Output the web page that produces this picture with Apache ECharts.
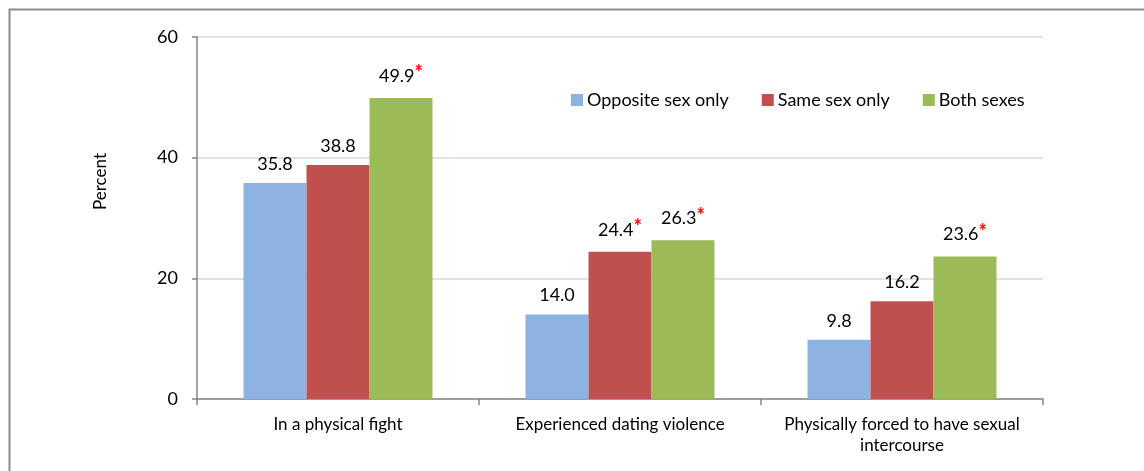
<!DOCTYPE html>
<html>
<head>
<meta charset="utf-8">
<script src="https://cdn.jsdelivr.net/npm/echarts@6/dist/echarts.min.js"></script>
<style>
  html, body { margin: 0; padding: 0; background: #ffffff; }
  #chart { width: 1144px; height: 471px; }
</style>
</head>
<body>
<div id="chart"></div>
<script>
// Categories and percentages per group
const categories = ['In a physical fight', 'Experienced dating violence', 'Physically forced to have sexual\nintercourse'];
const oppositeSexOnly = [35.8, 14.0, 9.8];
const sameSexOnly = [38.8, 24.4, 16.2];
const bothSexes = [49.9, 26.3, 23.6];
// Whether a value is flagged as significantly different (red asterisk)
const sameSexFlag = [false, true, false];
const bothSexesFlag = [true, true, true];
const yTicks = [0, 20, 40, 60];

const FONT = 'Lato, "Open Sans", sans-serif';

function labelFor(flags) {
  return {
    show: true,
    position: 'top',
    distance: 10,
    fontFamily: FONT,
    formatter: function (p) {
      const v = p.value.toFixed(1);
      return flags && flags[p.dataIndex] ? '{v|' + v + '}{s|*}' : '{v|' + v + '}';
    },
    rich: {
      v: { fontSize: 18, color: '#000000', fontFamily: FONT },
      s: { fontSize: 20, color: '#FF0000', fontWeight: 'bold', fontFamily: FONT, verticalAlign: 'top', padding: [0, 0, 4, 0] }
    }
  };
}

const chart = echarts.init(document.getElementById('chart'), null, { renderer: 'canvas' });
chart.setOption({
  animation: false,
  backgroundColor: '#ffffff',
  textStyle: { fontFamily: FONT },
  grid: { left: 197, right: 101, top: 37, bottom: 72, containLabel: false },
  legend: {
    top: 86,
    left: 566,
    itemWidth: 12,
    itemHeight: 12,
    itemGap: 33,
    icon: 'rect',
    textStyle: { fontSize: 18, color: '#000000', fontFamily: FONT, padding: [0, 0, 0, -1] },
    data: ['Opposite sex only', 'Same sex only', 'Both sexes']
  },
  xAxis: {
    type: 'category',
    data: categories,
    axisLine: { lineStyle: { color: '#868686', width: 1.5 } },
    axisTick: { show: true, length: 6, alignWithLabel: false, lineStyle: { color: '#868686', width: 1.5 } },
    axisLabel: { interval: 0, hideOverlap: false, fontSize: 17, color: '#000000', margin: 15, lineHeight: 21, fontFamily: FONT }
  },
  yAxis: {
    type: 'value',
    min: yTicks[0],
    max: yTicks[yTicks.length - 1],
    interval: 20,
    axisLine: { show: true, lineStyle: { color: '#868686', width: 1.5 } },
    axisTick: { show: true, length: 5, lineStyle: { color: '#868686', width: 1.5 } },
    axisLabel: { fontSize: 18, color: '#000000', margin: 19, fontFamily: FONT },
    splitLine: { show: true, lineStyle: { color: '#D9D9D9', width: 1.5 } }
  },
  graphic: [
    {
      type: 'text',
      left: 92,
      top: 153,
      rotation: Math.PI / 2,
      style: { text: 'Percent', fontSize: 17, fill: '#000000', fontFamily: FONT }
    },
    {
      type: 'polyline',
      silent: true,
      shape: { points: [[9.5, 480], [9.5, 9.5], [1150, 9.5]] },
      style: { stroke: '#8C8C8C', lineWidth: 2, fill: null }
    }
  ],
  series: [
    {
      name: 'Opposite sex only',
      type: 'bar',
      data: oppositeSexOnly,
      barGap: '0%',
      barCategoryGap: '33%',
      itemStyle: { color: '#8DB3E2' },
      label: labelFor(null)
    },
    {
      name: 'Same sex only',
      type: 'bar',
      data: sameSexOnly,
      barGap: '0%',
      barCategoryGap: '33%',
      itemStyle: { color: '#C0504D' },
      label: labelFor(sameSexFlag)
    },
    {
      name: 'Both sexes',
      type: 'bar',
      data: bothSexes,
      barGap: '0%',
      barCategoryGap: '33%',
      itemStyle: { color: '#9BBB59' },
      label: labelFor(bothSexesFlag)
    }
  ]
});
</script>
</body>
</html>
